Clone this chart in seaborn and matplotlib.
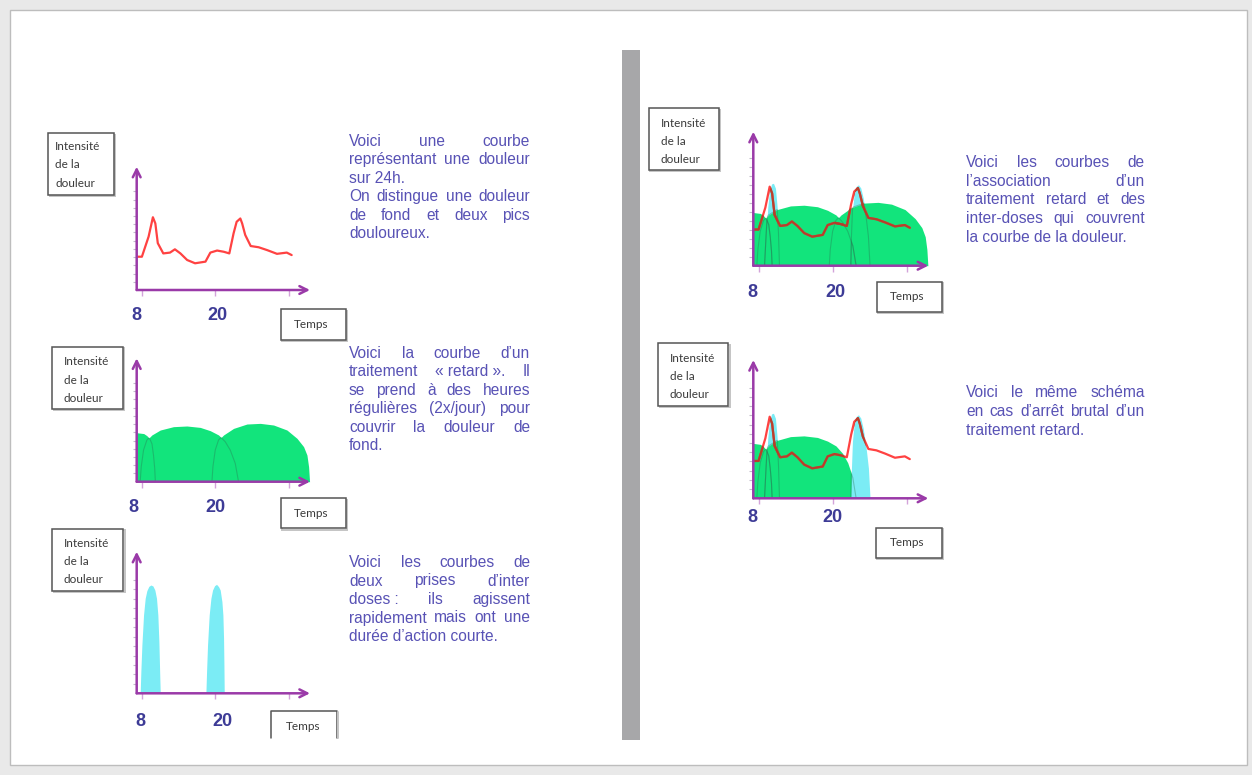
import numpy as np
import matplotlib.pyplot as plt
import seaborn as sns
from matplotlib.patches import Rectangle
from matplotlib.transforms import ScaledTranslation


# Pain curve over 24h (hours, intensity)
pain_hours = [7.2, 8.0, 9.1, 9.8, 10.2, 10.6, 11.5, 12.6, 13.4, 14.3, 15.4, 16.7, 18.4, 19.2,
              20.3, 21.4, 22.3, 23.0, 23.5, 24.1, 24.4, 24.9, 25.8, 27.1, 28.5, 30.1, 31.7, 32.5]
pain_level = [4.05, 4.05, 6.5, 8.85, 8.1, 5.7, 4.45, 4.55, 4.95, 4.45, 3.65, 3.25, 3.45, 4.55,
              4.8, 4.65, 4.45, 6.9, 8.3, 8.7, 8.1, 6.7, 5.35, 5.2, 4.85, 4.4, 4.55, 4.25]

# "retard" treatment domes (previous evening dose, morning dose, evening dose)
retard0_hours = [5.0, 7.2, 8.3, 8.8, 9.3, 9.65, 9.9, 10.1, 10.2]
retard0_level = [5.9, 5.95, 5.85, 5.6, 5.2, 4.6, 3.2, 1.6, 0.0]
retard1_hours = [7.72, 7.89, 8.27, 8.82, 9.63, 11.0, 13.17, 15.36, 17.54, 19.18, 20.54, 21.63,
                 22.45, 23.27, 23.81]
retard1_level = [0.0, 1.8, 3.85, 5.07, 5.68, 6.28, 6.69, 6.77, 6.6, 6.2, 5.68, 4.86, 3.85, 2.23, 0.0]
retard2_hours = [19.46, 19.62, 20.0, 20.54, 21.36, 23.0, 25.18, 27.36, 29.54, 31.73, 33.37, 34.45,
                 35.0, 35.27, 35.43]
retard2_level = [0.0, 1.82, 3.85, 5.07, 5.68, 6.48, 7.01, 7.09, 6.89, 6.28, 5.27, 4.26, 3.24, 1.82, 0.0]

# inter-doses alone
inter_a_hours = [7.72, 7.83, 8.0, 8.27, 8.54, 8.81, 9.14, 9.47, 9.8, 10.12, 10.39, 10.61, 10.78, 10.89, 11.0]
inter_a_level = [0.0, 2.29, 5.12, 8.3, 10.06, 10.87, 11.33, 11.47, 11.37, 10.94, 10.06, 8.3, 5.47, 2.65, 0.0]
inter_b_hours = [18.47, 18.58, 18.74, 19.01, 19.29, 19.56, 19.89, 20.21, 20.54, 20.81, 21.09, 21.25,
                 21.36, 21.42, 21.47]
inter_b_level = [0.0, 2.29, 5.12, 8.3, 10.06, 10.94, 11.4, 11.54, 11.3, 10.94, 9.71, 8.3, 5.83, 3.0, 0.0]

# inter-doses in the association schemes
combo_a_hours = [8.97, 9.24, 9.5, 9.77, 10.1, 10.42, 10.74, 11.01, 11.23, 11.39]
combo_a_level = [0.0, 3.62, 6.6, 8.29, 9.15, 9.22, 8.66, 6.6, 3.62, 0.0]
combo_b_hours = [22.95, 23.05, 23.21, 23.48, 23.86, 24.18, 24.56, 24.94, 25.37, 25.8, 26.06]
combo_b_level = [0.0, 3.26, 6.16, 7.97, 8.88, 9.06, 8.7, 7.61, 5.8, 3.26, 0.0]

tick_hours = [8, 20, 32]
tick_labels = ['8', '20', '']

y_label_lines = ['Intensité', 'de la', 'douleur']
x_label = 'Temps'

para_1 = ['Voici une courbe', 'représentant une douleur', 'sur 24h.', 'On distingue une douleur',
          'de fond et deux pics', 'douloureux.']
para_1_just = [True, True, False, True, True, False]
para_2 = ['Voici la courbe d’un', 'traitement «\u00a0retard\u00a0». Il', 'se prend à des heures',
          'régulières (2x/jour) pour', 'couvrir la douleur de', 'fond.']
para_2_just = [True, True, True, True, True, False]
para_3 = ['Voici les courbes de', 'deux prises d’inter', 'doses\u00a0: ils agissent',
          'rapidement mais ont une', 'durée d’action courte.']
para_3_just = [True, True, True, True, False]
para_4 = ['Voici les courbes de', 'l’association d’un', 'traitement retard et des',
          'inter-doses qui couvrent', 'la courbe de la douleur.']
para_4_just = [True, True, True, True, False]
para_5 = ['Voici le même schéma', 'en cas d’arrêt brutal d’un', 'traitement retard.']
para_5_just = [True, True, False]

GREEN = '#12e47c'
CYAN = '#7becf5'
RED = '#ff2d2d'
DARK_RED = '#b2402c'
PURPLE = '#9a3aa8'
TEXT = '#5852b5'

W, H = 1252, 775
sns.set_theme(style='white')
plt.rcParams['font.family'] = ['Liberation Sans', 'DejaVu Sans']

fig = plt.figure(figsize=(W / 100, H / 100), dpi=100)
bg = fig.add_axes([0, 0, 1, 1], zorder=0)
bg.set_xlim(0, W)
bg.set_ylim(H, 0)
bg.axis('off')

# page, frame, separator
bg.add_patch(Rectangle((0, 0), W, H, fc='#e9e9e9', ec='none'))
bg.add_patch(Rectangle((10, 10), 1237, 755, fc='white', ec='#bdbdbd', lw=1))
bg.add_patch(Rectangle((622, 50), 18, 690, fc='#a7a7a9', ec='none'))


def make_panel(x0, y0, x1, y1, pad, shifts):
    ax = fig.add_axes([x0 / W, 1 - y0 / H, (x1 - x0) / W, (y0 - y1) / H], zorder=2)
    ax.set_xlim(7.15, 35.5)
    ax.set_ylim(0, 15)
    ax.patch.set_alpha(0)
    for s in ax.spines.values():
        s.set_visible(False)
    ax.set_xticks(tick_hours)
    ax.set_xticklabels(tick_labels)
    ax.set_yticks(range(1, 13))
    ax.set_yticklabels([])
    ax.tick_params(axis='x', bottom=True, direction='out', length=4, width=1, color='#d3a3da',
                   pad=pad, labelsize=13, labelcolor='#3d3b96')
    ax.tick_params(axis='y', left=True, direction='out', length=3, width=0.8, color='#c2bccb')
    for lab, dx in zip(ax.get_xticklabels(), shifts):
        lab.set_fontweight('bold')
        lab.set_transform(lab.get_transform() + ScaledTranslation(dx / 100, 0, fig.dpi_scale_trans))
    arrow = dict(arrowstyle='->', color=PURPLE, lw=1.8, mutation_scale=14, shrinkA=0, shrinkB=0)
    ax.annotate('', xy=(1, 0), xytext=(0, 0), xycoords='axes fraction', arrowprops=arrow,
                annotation_clip=False, zorder=6)
    ax.annotate('', xy=(0, 1), xytext=(0, 0), xycoords='axes fraction', arrowprops=arrow,
                annotation_clip=False, zorder=6)
    return ax


def draw_layers(ax, layers):
    polys = []
    for hrs, lvl, col, z in layers:
        polys.append(ax.fill_between(hrs, lvl, color=col, lw=0, zorder=z))
    # faint outlines only where a dose curve runs inside another one
    for i, (hrs, lvl, col, z) in enumerate(layers):
        for j, poly in enumerate(polys):
            if j == i:
                continue
            ln, = ax.plot(hrs, lvl, color='#2b6e50', lw=0.8, alpha=0.35, zorder=3)
            ln.set_clip_path(poly.get_paths()[0], ax.transData)
    return polys


def draw_pain(ax, polys=()):
    sns.lineplot(x=pain_hours, y=pain_level, ax=ax, color=RED, lw=1.6, alpha=0.9, zorder=5)
    # the curve looks darker where it crosses the coloured areas
    for poly in polys:
        ln, = ax.plot(pain_hours, pain_level, color=DARK_RED, lw=1.6, alpha=0.9, zorder=5.5)
        ln.set_clip_path(poly.get_paths()[0], ax.transData)
    ax.set_xlabel('')
    ax.set_ylabel('')


ax1 = make_panel(136.7, 290, 310, 166.7, 8, [-6, 2, 0])
draw_pain(ax1)

ax2 = make_panel(136.7, 481.7, 310, 358.3, 8.7, [-9, 0, 0])
draw_layers(ax2, [(retard0_hours, retard0_level, GREEN, 2),
                  (retard1_hours, retard1_level, GREEN, 2),
                  (retard2_hours, retard2_level, GREEN, 2)])

ax3 = make_panel(136.7, 693.3, 310, 551.7, 10.2, [-2, 7, 0])
draw_layers(ax3, [(inter_a_hours, inter_a_level, CYAN, 2),
                  (inter_b_hours, inter_b_level, CYAN, 2)])

ax4 = make_panel(753.3, 265.7, 928.3, 131.7, 9.4, [-6, 3, 0])
p4 = draw_layers(ax4, [(combo_a_hours, combo_a_level, CYAN, 1),
                       (combo_b_hours, combo_b_level, CYAN, 1),
                       (retard0_hours, retard0_level, GREEN, 2),
                       (retard1_hours, retard1_level, GREEN, 2),
                       (retard2_hours, retard2_level, GREEN, 2)])
draw_pain(ax4, p4)

ax5 = make_panel(753.3, 498.3, 928.3, 360, 3.5, [-6, 0, 0])
p5 = draw_layers(ax5, [(combo_a_hours, combo_a_level, CYAN, 1),
                       (retard0_hours, retard0_level, GREEN, 2),
                       (retard1_hours, retard1_level, GREEN, 2),
                       (combo_b_hours, combo_b_level, CYAN, 2.5)])
draw_pain(ax5, p5)

# label boxes
box_font = dict(family=['Lato', 'DejaVu Sans'], fontsize=8.5, color='#3a3a3a')
y_boxes = [(48.3, 133.3, 65.7, 61.7, 55, 146.7),
           (52.3, 346.7, 70.4, 62.3, 64, 361.7),
           (52.3, 529, 71, 62, 64, 543.3),
           (649, 108.3, 70, 61.7, 660.7, 123.3),
           (658.3, 343.3, 70, 62.4, 670, 358.3)]
for bx, by, bw, bh, tx, ty in y_boxes:
    bg.add_patch(Rectangle((bx + 1.2, by + 1.2), bw, bh, fc='none', ec='#c4c4c4', lw=1.4))
    bg.add_patch(Rectangle((bx, by), bw, bh, fc='white', ec='#555555', lw=1.1))
    for k, line in enumerate(y_label_lines):
        bg.text(tx, ty + k * 18.3, line, ha='left', va='center', **box_font)

x_boxes = [(280.7, 309.3, 65.3, 30.7), (280.7, 498.3, 65.3, 30),
           (876.7, 281.7, 65, 30), (876, 527.7, 65.7, 30)]
for bx, by, bw, bh in x_boxes:
    bg.add_patch(Rectangle((bx + 1.2, by + 1.2), bw, bh, fc='none', ec='#c4c4c4', lw=1.4))
    bg.add_patch(Rectangle((bx, by), bw, bh, fc='white', ec='#555555', lw=1.1))
    bg.text(bx + bw / 2 - 2, by + bh / 2, x_label, ha='center', va='center', **box_font)
# the last "Temps" box is cut by the page edge
bg.plot([271, 271, 336.7, 336.7], [738, 710.7, 710.7, 738], color='#555555', lw=1.1)
bg.plot([338, 338], [712, 738], color='#c4c4c4', lw=1.4)
bg.text(303, 726, x_label, ha='center', va='center', **box_font)

# justified paragraphs
para_style = dict(family=['Liberation Sans', 'DejaVu Sans'], fontsize=11.2, color=TEXT,
                  ha='left', va='baseline')
renderer = fig.canvas.get_renderer()


def paragraph(lines, justify, x_left, x_right, y0, step):
    for k, (line, just) in enumerate(zip(lines, justify)):
        yb = y0 + k * step + 5
        if not just:
            bg.text(x_left, yb, line, **para_style)
            continue
        words = line.split(' ')
        texts = [bg.text(0, yb, w, **para_style) for w in words]
        widths = [t.get_window_extent(renderer).width for t in texts]
        gap = (x_right - x_left - sum(widths)) / (len(words) - 1)
        x = x_left
        for t, w in zip(texts, widths):
            t.set_x(x)
            x += w + gap


paragraph(para_1, para_1_just, 349, 530, 141, 18.4)
paragraph(para_2, para_2_just, 349, 530, 353, 18.4)
paragraph(para_3, para_3_just, 349, 530, 562, 18.5)
paragraph(para_4, para_4_just, 966, 1145, 162, 18.75)
paragraph(para_5, para_5_just, 966, 1145, 392, 19)

fig.savefig('out.png', dpi=100)
